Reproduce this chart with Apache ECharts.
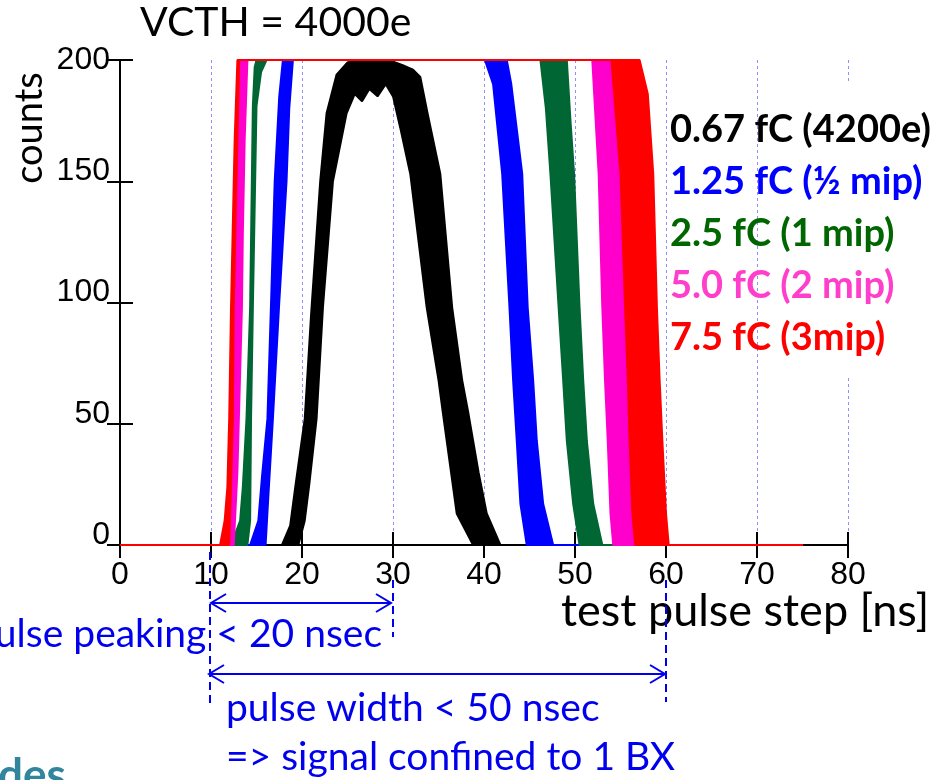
<!DOCTYPE html>
<html>
<head>
<meta charset="utf-8">
<script src="https://cdn.jsdelivr.net/npm/echarts@6/dist/echarts.min.js"></script>
<style>
html, body { margin: 0; padding: 0; background: #fff; }
#chart { width: 946px; height: 780px; }
</style>
</head>
<body>
<div id="chart"></div>
<script>
// axis ticks
const xTicks = [0, 10, 20, 30, 40, 50, 60, 70, 80]
const yTicks = [0, 50, 100, 150, 200]

const legendLabels = ['0.67 fC (4200e)', '1.25 fC (½ mip)', '2.5 fC (1 mip)', '5.0 fC (2 mip)', '7.5 fC (3mip)']

// every charge setting is a bundle of channel scans; the two edges of each bundle
// were read off the plot as [test pulse step ns, counts]
const blackOuter = [[0, 0], [17.8, 0], [18.7, 8], [19.3, 25], [20.3, 52], [21.0, 95], [22.0, 150], [22.7, 178], [23.8, 194], [25.0, 199], [26.0, 200], [29.5, 200], [31.0, 198], [32.2, 196], [33.0, 193], [33.8, 178], [35.2, 153], [36.5, 98], [37.6, 68], [38.3, 54], [39.4, 30], [40.3, 13], [41.8, 0], [75, 0]]
const blackInner = [[0, 0], [19.6, 0], [20.3, 10], [20.8, 25], [21.6, 52], [22.3, 98], [23.4, 150], [24.9, 178], [25.8, 186], [26.6, 183], [27.4, 188], [28.3, 185], [29.2, 190], [30.0, 185], [30.8, 172], [31.9, 153], [33.7, 98], [35.0, 68], [35.5, 54], [37.0, 13], [38.8, 0], [75, 0]]

const blueOuter = [[0, 0], [14.3, 0], [15.2, 10], [15.6, 28], [16.2, 52], [16.6, 100], [17.0, 150], [17.5, 185], [17.9, 200], [42.5, 200], [43.0, 190], [44.2, 153], [44.8, 98], [45.4, 68], [45.8, 43], [46.5, 17], [47.6, 0], [75, 0]]
const blueInner = [[0, 0], [16.0, 0], [16.3, 20], [16.8, 52], [17.5, 100], [18.3, 150], [18.6, 180], [19.0, 200], [40.1, 200], [41.0, 190], [42.0, 153], [42.8, 98], [43.2, 68], [43.6, 43], [44.0, 17], [44.7, 0], [75, 0]]

const greenOuter = [[0, 0], [12.2, 0], [13.2, 10], [13.5, 24], [13.9, 52], [14.3, 98], [14.6, 181], [14.8, 197], [15.0, 200], [49.1, 200], [49.5, 175], [49.9, 153], [50.5, 98], [50.9, 68], [51.3, 43], [52.0, 17], [53.0, 0], [75, 0]]
const greenInner = [[0, 0], [14.0, 0], [14.3, 10], [14.4, 52], [14.6, 98], [15.0, 181], [15.5, 195], [16.1, 200], [46.2, 200], [46.8, 180], [47.3, 153], [48.2, 98], [48.7, 68], [49.1, 43], [49.8, 17], [50.5, 0], [75, 0]]

const pinkOuter = [[0, 0], [11.7, 0], [12.2, 20], [12.6, 98], [12.8, 129], [13.0, 167], [13.1, 200], [54.2, 200], [55.2, 153], [55.7, 98], [56.0, 68], [56.4, 43], [56.6, 13], [56.8, 0], [75, 0]]
const pinkInner = [[0, 0], [12.5, 0], [12.9, 30], [13.4, 98], [13.5, 129], [13.7, 167], [14.0, 200], [51.9, 200], [52.6, 153], [53.0, 98], [53.3, 68], [53.6, 43], [53.9, 13], [54.2, 0], [75, 0]]

const redOuter = [[0, 0], [11.0, 0], [11.5, 10], [11.8, 24], [12.0, 52], [12.2, 98], [12.6, 167], [12.9, 200], [57.1, 200], [58.0, 186], [58.6, 153], [59.0, 98], [59.3, 68], [59.6, 43], [60.0, 13], [60.3, 0], [75, 0]]
const redInner = [[0, 0], [12.0, 0], [12.2, 24], [12.4, 52], [12.5, 98], [12.9, 167], [13.1, 200], [54.0, 200], [55.0, 153], [55.5, 98], [55.8, 68], [56.0, 43], [56.3, 13], [56.6, 0], [75, 0]]

const colors = ['#000000', '#0000ff', '#006633', '#ff00cc', '#ff0000']
const legendColors = ['#000000', '#0000ff', '#006600', '#ff3fcc', '#ff0000']
const blue = '#0000ee'
const tickFont = 'Liberation Sans'

const bundles = [
  [blackOuter, blackInner],
  [blueOuter, blueInner],
  [greenOuter, greenInner],
  [pinkOuter, pinkInner],
  [redOuter, redInner]
]

const chart = echarts.init(document.getElementById('chart'))

const series = []
bundles.forEach(([outer, inner], i) => {
  const z = 2 + i
  // fill between the earliest and the latest scan of the bundle
  series.push({
    type: 'custom',
    name: legendLabels[i],
    z,
    silent: true,
    data: [[0, 0]],
    renderItem: (params, api) => {
      const pts = outer.concat(inner.slice().reverse()).map(p => api.coord(p))
      return {
        type: 'polygon',
        shape: { points: pts },
        style: { fill: colors[i] }
      }
    }
  })
  ;[outer, inner].forEach(curve => {
    series.push({
      type: 'line',
      z,
      silent: true,
      data: curve,
      showSymbol: false,
      lineStyle: { color: colors[i], width: 2 },
      itemStyle: { color: colors[i] }
    })
  })
})

const axisCommon = {
  axisLine: { lineStyle: { color: '#000', width: 2 } },
  axisTick: { inside: true, length: 13, lineStyle: { color: '#000', width: 2 } }
}

chart.setOption({
  animation: false,
  title: {
    text: 'VCTH = 4000e',
    left: 135,
    top: -3,
    textStyle: { fontFamily: 'Lato', fontWeight: 'normal', fontSize: 41, color: '#000' }
  },
  legend: {
    orient: 'vertical',
    left: 660,
    top: 103,
    z: 6,
    itemGap: 8,
    itemWidth: 0,
    itemHeight: 44,
    selectedMode: false,
    textStyle: { fontFamily: 'Lato', fontWeight: 'bold', fontSize: 38, lineHeight: 44 },
    data: legendLabels.map((name, i) => ({ name, icon: 'none', textStyle: { color: legendColors[i] } }))
  },
  grid: { left: 120, right: 98, top: 60, bottom: 235 },
  xAxis: [
    {
      type: 'value',
      min: xTicks[0],
      max: xTicks[xTicks.length - 1],
      interval: 10,
      position: 'bottom',
      ...axisCommon,
      axisLabel: { fontFamily: tickFont, fontSize: 32, lineHeight: 32, color: '#000', margin: 14 },
      splitLine: { show: true, lineStyle: { color: '#8f8fff', width: 1, type: [3, 3] } }
    },
    {
      type: 'value',
      min: xTicks[0],
      max: xTicks[xTicks.length - 1],
      interval: 10,
      position: 'top',
      ...axisCommon,
      axisLabel: { show: false },
      splitLine: { show: false }
    }
  ],
  yAxis: [
    {
      type: 'value',
      min: yTicks[0],
      max: yTicks[yTicks.length - 1],
      interval: 50,
      position: 'left',
      ...axisCommon,
      splitLine: { show: false },
      axisLabel: {
        margin: 10,
        color: '#000',
        fontFamily: tickFont,
        fontSize: 32,
        formatter: v => (v === 200 ? '{a|' + v + '}' : '{b|' + v + '}'),
        rich: {
          a: { fontFamily: tickFont, fontSize: 32, color: '#000' },
          b: { fontFamily: tickFont, fontSize: 32, color: '#000', padding: [0, 0, 20, 0] }
        }
      }
    },
    {
      type: 'value',
      min: yTicks[0],
      max: yTicks[yTicks.length - 1],
      interval: 50,
      position: 'right',
      ...axisCommon,
      axisLabel: { show: false },
      splitLine: { show: false }
    }
  ],
  series
})

// annotation positions follow the x scale
const px = v => chart.convertToPixel({ xAxisIndex: 0 }, v)
const x10 = px(10)
const x30 = px(30)
const x60 = px(60)
const x80 = px(80)

const dashed = (x, y1, y2) => ({
  type: 'line',
  shape: { x1: x, y1, x2: x, y2 },
  style: { stroke: blue, lineWidth: 2, lineDash: [8, 5] },
  z: 20
})
const arrow = (xa, xb, y) => [
  { type: 'line', shape: { x1: xa, y1: y, x2: xb, y2: y }, style: { stroke: blue, lineWidth: 2 }, z: 20 },
  { type: 'polyline', shape: { points: [[xa + 15, y - 9], [xa, y], [xa + 15, y + 9]] }, style: { stroke: blue, lineWidth: 2, fill: null }, z: 20 },
  { type: 'polyline', shape: { points: [[xb - 15, y - 9], [xb, y], [xb - 15, y + 9]] }, style: { stroke: blue, lineWidth: 2, fill: null }, z: 20 }
]
const label = (text, x, y, color, font, align) => ({
  type: 'text',
  x,
  y,
  z: 20,
  style: { text, fill: color, font, align: align || 'left', verticalAlign: 'middle' }
})

chart.setOption({
  graphic: [
    // right frame is interrupted behind the legend (kept under the legend text)
    { type: 'rect', shape: { x: x80 - 5, y: 84, width: 10, height: 293 }, style: { fill: '#fff' }, z: 1 },
    {
      type: 'text',
      x: 30,
      y: 128,
      rotation: Math.PI / 2,
      z: 20,
      style: { text: 'counts', fill: '#000', font: '38px Lato', align: 'center', verticalAlign: 'middle' }
    },
    label('test pulse step [ns]', 561, 611, '#000', '45px Lato'),
    dashed(x10 - 1, 552, 705),
    dashed(x30, 580, 637),
    dashed(x60, 580, 702),
    ...arrow(x10, x30 - 2, 603),
    ...arrow(x10 - 2, x60 - 1, 674),
    label('pulse peaking < 20 nsec', 382, 634, blue, '39px Lato', 'right'),
    label('pulse width < 50 nsec', 226, 708, blue, '39px Lato'),
    label('=> signal confined to 1 BX', 226, 757, blue, '39px Lato'),
    label('des', -2, 776, '#31859c', 'bold 44px Lato')
  ]
})
</script>
</body>
</html>
